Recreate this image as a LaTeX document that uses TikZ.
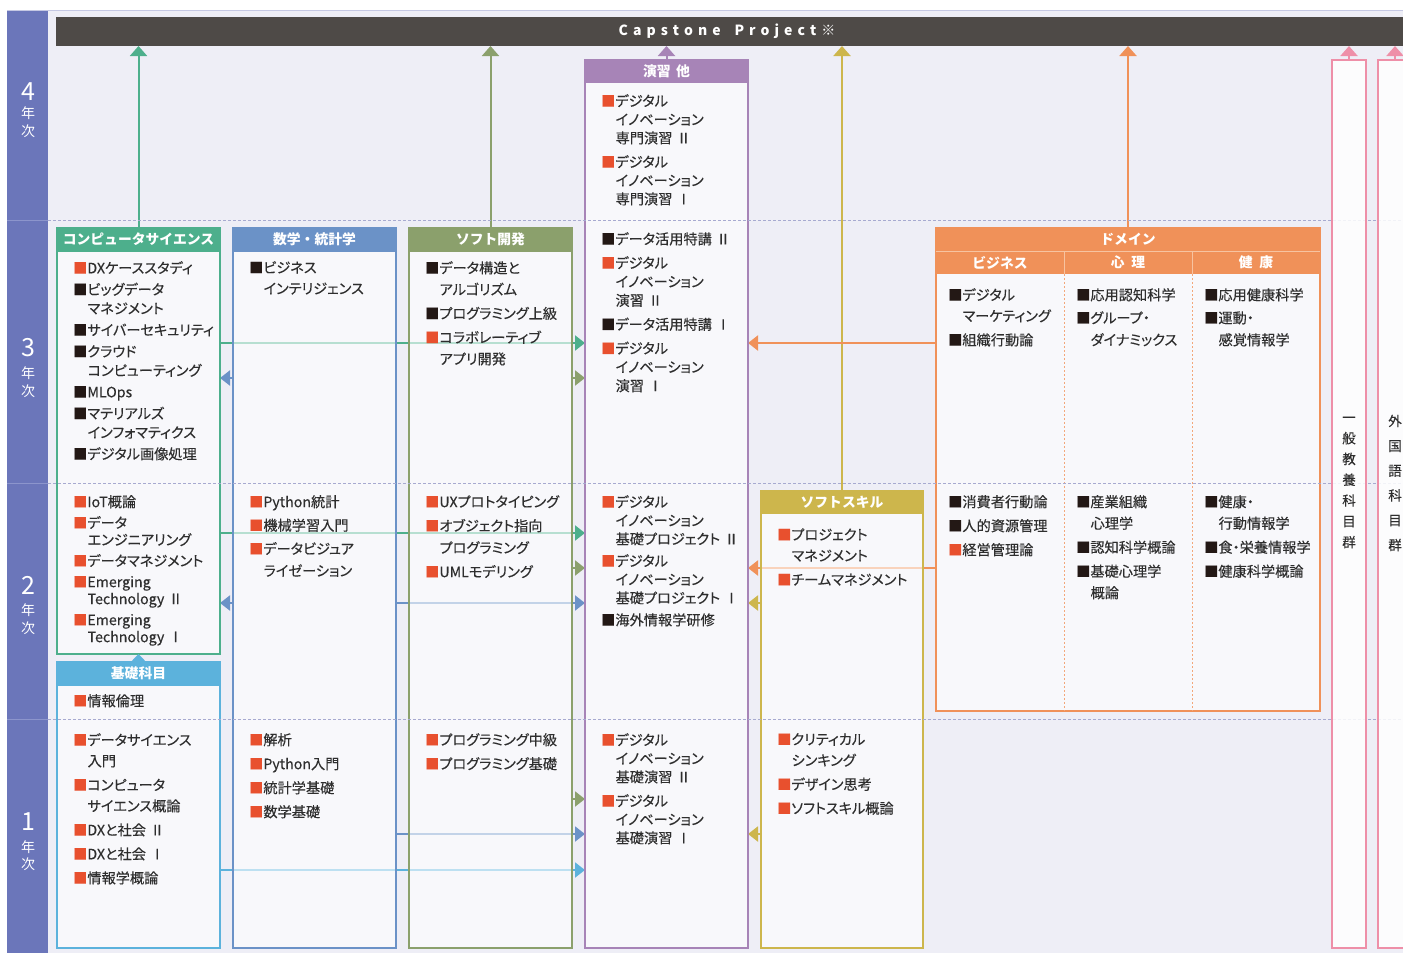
\documentclass[tikz,border=0pt]{standalone}
\usepackage{fontspec}
\setmainfont{Noto Sans CJK JP}
\newfontfamily\itemfont{Noto Sans CJK JP}[FakeBold=0.25, RawFeature=+palt]
\usetikzlibrary{arrows.meta}
\definecolor{bgc}{HTML}{EEEEF6}
\definecolor{yearc}{HTML}{6B76BA}
\definecolor{yeardiv}{HTML}{8C95CC}
\definecolor{topc}{HTML}{C5C8E3}
\definecolor{capc}{HTML}{4E4A47}
\definecolor{csc}{HTML}{4DAF8C}
\definecolor{mathc}{HTML}{6B92C7}
\definecolor{softc}{HTML}{8BA06C}
\definecolor{ensc}{HTML}{A784B7}
\definecolor{ssc}{HTML}{CDB64C}
\definecolor{domc}{HTML}{F09159}
\definecolor{sepc}{HTML}{F7C3A0}
\definecolor{pinkc}{HTML}{EE8FA8}
\definecolor{kisoc}{HTML}{5CB2DC}
\definecolor{dashc}{HTML}{A7AAD0}
\definecolor{txtc}{HTML}{2E2E2E}
\definecolor{sqred}{HTML}{E8502E}
\definecolor{sqblk}{HTML}{231815}
\newcommand\Rq{{\color{sqred}■}}
\newcommand\Kq{{\color{sqblk}■}}
\newcommand\ind{\hspace*{14.4pt}}
\newcommand\rn{\hspace{0.3em}}
\newcommand\ls{\kern5pt}
\newcommand\hfont{\fontsize{13.8}{16}\selectfont\bfseries}
\pgfdeclarelayer{bgl}
\pgfdeclarelayer{conl}
\pgfsetlayers{bgl,conl,main}
\tikzset{
  colbox/.style={draw=#1, line width=2pt, fill=white, fill opacity=0.6, inner sep=0pt, outer sep=0pt, anchor=north west},
  pinkbox/.style={draw=pinkc, line width=2pt, fill=white, fill opacity=0.85, inner sep=0pt, outer sep=0pt, anchor=north west, minimum width=34pt, minimum height=888pt},
  hdr/.style={draw=#1, fill=#1, line width=2pt, inner sep=0pt, outer sep=0pt, anchor=north west, text=white, font=\hfont},
  subhdr/.style={fill=domc, inner sep=0pt, outer sep=0pt, anchor=north west, text=white, font=\hfont, minimum width=128pt, minimum height=23pt},
  items/.style={anchor=north west, inner sep=0pt, align=left, text=txtc, font=\itemfont\fontsize{14.2}{#1}\selectfont},
  conn/.style={draw=#1, line width=2pt, -{Triangle[width=15pt,length=10pt]}},
  upconn/.style={draw=#1, line width=2pt, -{Triangle[width=17pt,length=10pt]}},
  yrnum/.style={text=white, inner sep=0pt, font=\fontsize{25}{25}\selectfont},
  yrchar/.style={text=white, inner sep=0pt, font=\fontsize{14}{14}\selectfont},
  vtext/.style={align=center, inner sep=0pt, text=txtc, font=\itemfont\fontsize{13.5}{#1}\selectfont},
  yeardash/.style={draw=dashc, line width=1pt, dash pattern=on 3pt off 2pt},
  domdot/.style={draw=domc!80, line width=0.8pt, dash pattern=on 2pt off 2pt},
}
\begin{document}
\begin{tikzpicture}[x=1pt,y=-1pt]
\useasboundingbox (0,0) rectangle (1403,953);
\begin{pgfonlayer}{bgl}
\fill[white] (0,0) rectangle (1403,953);
\fill[bgc] (48,10) rectangle (1403,953);
\fill[yearc] (7,10) rectangle (48,953);
\draw[topc, line width=1pt] (7,10) -- (1403,10);
\foreach \yy in {220,483,719} \draw[yeardiv, line width=1pt] (7,\yy) -- (48,\yy);
\end{pgfonlayer}

% year labels
\node[yrnum] (y4n) at (28,92) {4};
\node[yrchar] (y4a) at (28,113) {年};
\node[yrchar] (y4b) at (28,131) {次};
\node[yrnum] (y3n) at (28,348) {3};
\node[yrchar] (y3a) at (28,373) {年};
\node[yrchar] (y3b) at (28,391) {次};
\node[yrnum] (y2n) at (28,585) {2};
\node[yrchar] (y2a) at (28,610) {年};
\node[yrchar] (y2b) at (28,628) {次};
\node[yrnum] (y1n) at (28,822) {1};
\node[yrchar] (y1a) at (28,847) {年};
\node[yrchar] (y1b) at (28,864) {次};

% capstone bar
\node[fill=capc, inner sep=0pt, outer sep=0pt, anchor=north west, minimum width=1370pt, minimum height=29pt] (cap) at (56,17) {};
\node[text=white, inner sep=0pt, font=\fontsize{14}{14}\selectfont\bfseries] (captxt) at (727,31)
  {C\ls a\ls p\ls s\ls t\ls o\ls n\ls e\ls\hspace{4pt}\ls P\ls r\ls o\ls j\ls e\ls c\ls t\ls ※};

% column boxes
\node[colbox=csc, minimum width=163pt, minimum height=426pt] (cs) at (57,228) {};
\node[colbox=kisoc, minimum width=163pt, minimum height=286pt] (kiso) at (57,662) {};
\node[colbox=mathc, minimum width=163pt, minimum height=720pt] (math) at (233,228) {};
\node[colbox=softc, minimum width=163pt, minimum height=720pt] (soft) at (409,228) {};
\node[colbox=ensc, minimum width=163pt, minimum height=888pt] (ens) at (585,60) {};
\node[colbox=ssc, minimum width=162pt, minimum height=457pt] (ss) at (761,491) {};
\node[colbox=domc, minimum width=384pt, minimum height=483pt] (dom) at (936,228) {};

% headers
\node[hdr=csc, minimum width=163pt, minimum height=23pt] (csh) at (57,228) {コンピュータサイエンス};
\node[hdr=kisoc, minimum width=163pt, minimum height=23pt] (kisoh) at (57,662) {基礎科目};
\node[hdr=mathc, minimum width=163pt, minimum height=23pt] (mathh) at (233,228) {数学・統計学};
\node[hdr=softc, minimum width=163pt, minimum height=23pt] (softh) at (409,228) {ソフト開発};
\node[hdr=ensc, minimum width=163pt, minimum height=22pt] (ensh) at (585,60) {演習\hspace{0.4em}他};
\node[hdr=ssc, minimum width=162pt, minimum height=22pt] (ssh) at (761,491) {ソフトスキル};
\node[hdr=domc, minimum width=384pt, minimum height=23pt] (domh) at (936,228) {ドメイン};
\node[subhdr] (bizh) at (936,251) {ビジネス};
\node[subhdr] (psyh) at (1064,251) {心\hspace{0.5em}理};
\node[subhdr] (heah) at (1192,251) {健\hspace{0.5em}康};
\draw[sepc, line width=1pt] (bizh.north west) -- (heah.north east);
\draw[sepc, line width=1pt] (psyh.north west) -- (psyh.south west);
\draw[sepc, line width=1pt] (heah.north west) -- (heah.south west);
\draw[domdot] (psyh.south west) -- (psyh.south west |- dom.south);
\draw[domdot] (heah.south west) -- (heah.south west |- dom.south);

% year dividers
\foreach \yy in {220,483,719} \draw[yeardash] (48,\yy) -- (1403,\yy);

% pink boxes
\node[pinkbox] (gen) at (1332,60) {};
\node[pinkbox] (lang) at (1378,60) {};
\node[vtext=20.8] (gent) at (1349,482.5) {一\\般\\教\\養\\科\\目\\群};
\node[vtext=24.8] (langt) at (1395,483) {外\\国\\語\\科\\目\\群};

% row coordinates
\coordinate (yA3) at (0,343);
\coordinate (yB3) at (0,378);
\coordinate (yA2) at (0,533);
\coordinate (yB2) at (0,568);
\coordinate (yC2) at (0,603);
\coordinate (yA1) at (0,799);
\coordinate (yB1) at (0,834);
\coordinate (yC1) at (0,870);

\begin{pgfonlayer}{conl}
\draw[upconn=csc] (cs.north) -- (cs.north |- cap.south);
\draw[upconn=softc] (soft.north) -- (soft.north |- cap.south);
\draw[upconn=ensc] (ens.north) -- (ens.north |- cap.south);
\draw[upconn=ssc] (ss.north) -- (ss.north |- cap.south);
\draw[upconn=domc] (dom.north) -- (dom.north |- cap.south);
\draw[upconn=pinkc] (gen.north) -- (gen.north |- cap.south);
\draw[upconn=pinkc] (lang.north) -- (lang.north |- cap.south);
\draw[conn=csc] (cs.east |- yA3) -- (ens.west |- yA3);
\draw[conn=domc] (dom.west |- yA3) -- (ens.east |- yA3);
\draw[conn=softc] (soft.east |- yB3) -- (ens.west |- yB3);
\draw[conn=mathc] (math.west |- yB3) -- (cs.east |- yB3);
\draw[conn=csc] (cs.east |- yA2) -- (ens.west |- yA2);
\draw[conn=softc] (soft.east |- yB2) -- (ens.west |- yB2);
\draw[conn=domc] (dom.west |- yB2) -- (ens.east |- yB2);
\draw[conn=mathc] (math.east |- yC2) -- (ens.west |- yC2);
\draw[conn=mathc] (math.west |- yC2) -- (cs.east |- yC2);
\draw[conn=ssc] (ss.west |- yC2) -- (ens.east |- yC2);
\draw[conn=softc] (soft.east |- yA1) -- (ens.west |- yA1);
\draw[conn=mathc] (math.east |- yB1) -- (ens.west |- yB1);
\draw[conn=ssc] (ss.west |- yB1) -- (ens.east |- yB1);
\draw[conn=kisoc] (kiso.east |- yC1) -- (ens.west |- yC1);
\end{pgfonlayer}
\draw[draw=kisoc, line width=2pt, -{Triangle[width=13pt,length=7pt]}] (kisoh.north) -- (cs.south);

% items
\node[items=19] (tcs3) at (73,261) {\Rq DXケーススタディ\\[2.5pt]\Kq ビッグデータ\\\ind マネジメント\\[2.5pt]\Kq サイバーセキュリティ\\[2.5pt]\Kq クラウド\\\ind コンピューティング\\[2.5pt]\Kq MLOps\\[2.5pt]\Kq マテリアルズ\\\ind インフォマティクス\\[2.5pt]\Kq デジタル画像処理};
\node[items=17] (tcs2) at (73,495) {\Rq IoT概論\\[4pt]\Rq データ\\\ind エンジニアリング\\[4pt]\Rq データマネジメント\\[4pt]\Rq Emerging\\\ind Technology\rn Ⅱ\\[4pt]\Rq Emerging\\\ind Technology\rn Ⅰ};
\node[items=19] (tkiso2) at (73,694) {\Rq 情報倫理};
\node[items=21] (tkiso1) at (73,733) {\Rq データサイエンス\\\ind 入門\\[3pt]\Rq コンピュータ\\\ind サイエンス概論\\[3pt]\Rq DXと社会\rn Ⅱ\\[3pt]\Rq DXと社会\rn Ⅰ\\[3pt]\Rq 情報学概論};
\node[items=21] (tmath3) at (249,261) {\Kq ビジネス\\\ind インテリジェンス};
\node[items=22] (tmath2) at (249,495) {\Rq Python統計\\[1.5pt]\Rq 機械学習入門\\[1.5pt]\Rq データビジュア\\\ind ライゼーション};
\node[items=24] (tmath1) at (249,733) {\Rq 解析\\\Rq Python入門\\\Rq 統計学基礎\\\Rq 数学基礎};
\node[items=21.5] (tsoft3) at (425,261) {\Kq データ構造と\\\ind アルゴリズム\\[2.5pt]\Kq プログラミング上級\\[2.5pt]\Rq コラボレーティブ\\\ind アプリ開発};
\node[items=22] (tsoft2) at (425,495) {\Rq UXプロトタイピング\\[2pt]\Rq オブジェクト指向\\\ind プログラミング\\[2pt]\Rq UMLモデリング};
\node[items=24] (tsoft1) at (425,733) {\Rq プログラミング中級\\\Rq プログラミング基礎};
\node[items=18.5] (tens4) at (601,94) {\Rq デジタル\\\ind イノベーション\\\ind 専門演習\rn Ⅱ\\[5.5pt]\Rq デジタル\\\ind イノベーション\\\ind 専門演習\rn Ⅰ};
\node[items=18.7] (tens3) at (601,232) {\Kq データ活用特講\rn Ⅱ\\[5.3pt]\Rq デジタル\\\ind イノベーション\\\ind 演習\rn Ⅱ\\[5.3pt]\Kq データ活用特講\rn Ⅰ\\[5.3pt]\Rq デジタル\\\ind イノベーション\\\ind 演習\rn Ⅰ};
\node[items=18.5] (tens2) at (601,495) {\Rq デジタル\\\ind イノベーション\\\ind 基礎プロジェクト\rn Ⅱ\\[3.5pt]\Rq デジタル\\\ind イノベーション\\\ind 基礎プロジェクト\rn Ⅰ\\[3.5pt]\Kq 海外情報学研修};
\node[items=18.5] (tens1) at (601,733) {\Rq デジタル\\\ind イノベーション\\\ind 基礎演習\rn Ⅱ\\[5.5pt]\Rq デジタル\\\ind イノベーション\\\ind 基礎演習\rn Ⅰ};
\node[items=21] (tss2) at (777,528) {\Rq プロジェクト\\\ind マネジメント\\[3pt]\Rq チームマネジメント};
\node[items=21] (tss1) at (777,733) {\Rq クリティカル\\\ind シンキング\\[3pt]\Rq デザイン思考\\[3pt]\Rq ソフトスキル概論};
\node[items=21] (tbiz3) at (948,288) {\Kq デジタル\\\ind マーケティング\\[3pt]\Kq 組織行動論};
\node[items=22] (tpsy3) at (1076,288) {\Kq 応用認知科学\\[1pt]\Kq グループ・\\\ind ダイナミックス};
\node[items=22] (thea3) at (1204,288) {\Kq 応用健康科学\\[1pt]\Kq 運動・\\\ind 感覚情報学};
\node[items=24] (tbiz2) at (948,495) {\Kq 消費者行動論\\\Kq 人的資源管理\\\Rq 経営管理論};
\node[items=21.5] (tpsy2) at (1076,495) {\Kq 産業組織\\\ind 心理学\\[2.5pt]\Kq 認知科学概論\\[2.5pt]\Kq 基礎心理学\\\ind 概論};
\node[items=21.5] (thea2) at (1204,495) {\Kq 健康・\\\ind 行動情報学\\[2.5pt]\Kq 食・栄養情報学\\[2.5pt]\Kq 健康科学概論};
\end{tikzpicture}
\end{document}
